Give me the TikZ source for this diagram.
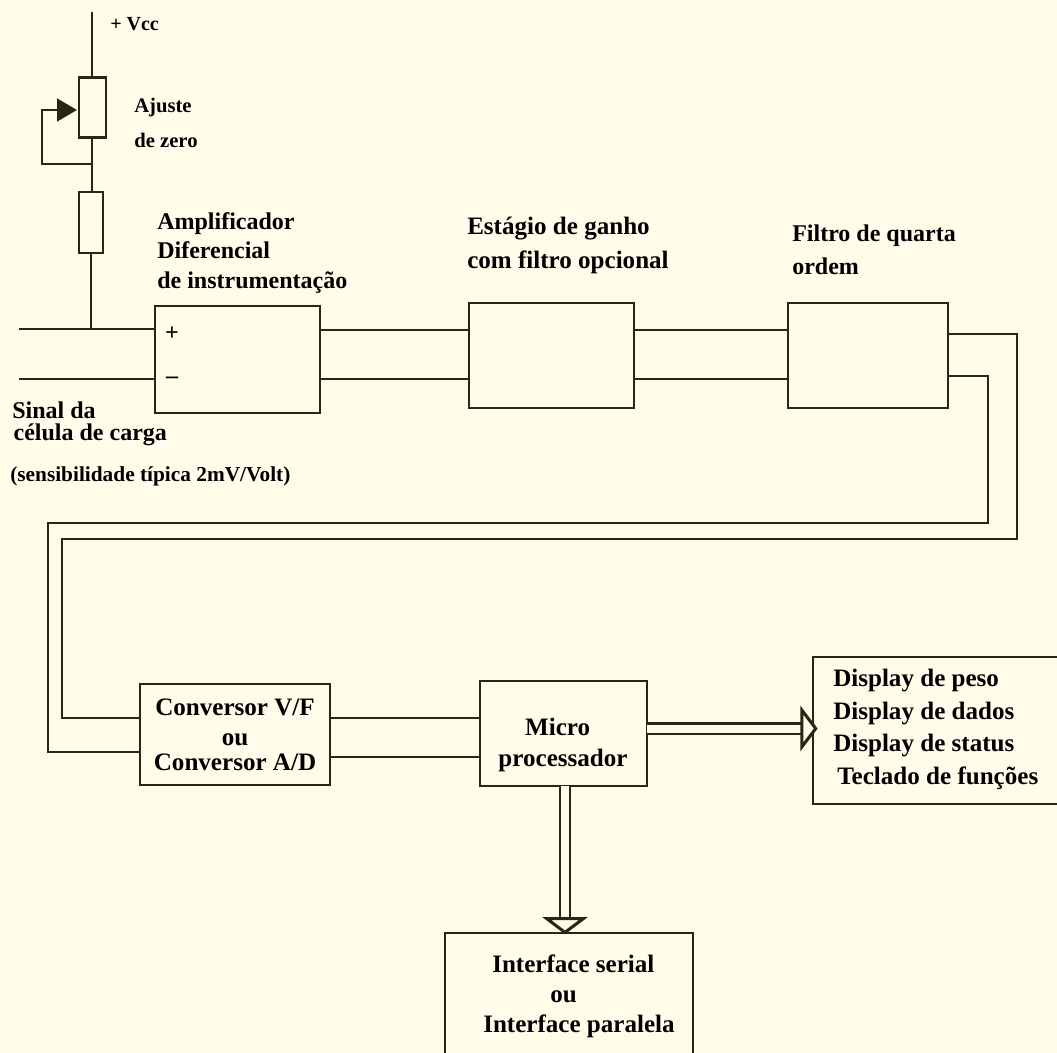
\documentclass[tikz,border=0pt]{standalone}
\usepackage{fontspec}
\setmainfont{Liberation Serif}
\usetikzlibrary{arrows.meta,positioning,calc}
\definecolor{paper}{HTML}{FFFCE9}
\definecolor{ink}{HTML}{2B2614}
\tikzset{
  wire/.style={draw=ink,line width=2.1pt},
  blockbox/.style={draw=ink,line width=2.1pt,inner sep=0pt,outer sep=0pt,align=center},
  lbl/.style={inner sep=0pt,anchor=west,align=left,text=black},
  bigfont/.style={font=\fontsize{18.8}{20}\bfseries},
  smallfont/.style={font=\fontsize{15.5}{17}\bfseries},
  bus/.style={draw=ink,line width=1.6pt,double=paper,double distance=6pt,
    -{Triangle[open,fill=paper,length=13pt,width=34pt,line width=2.3pt]},shorten >=#1},
}
\begin{document}
\begin{tikzpicture}[x=0.75pt,y=-0.75pt,font=\fontsize{18}{20}\bfseries]
\useasboundingbox (0,0) rectangle (1057,1053);
\fill[paper] (0,0) rectangle (1057,1053);
% zero adjust branch
\coordinate (vcc) at (92,12);
\node[blockbox,minimum width=20.25pt,minimum height=45pt] (pot) at (92.5,107.5) {};
\node[blockbox,minimum width=18pt,minimum height=45.75pt] (res) at (91,222.5) {};
\coordinate (loop) at (92,164);
\coordinate (wiper) at (77,110);
\draw[wire] (vcc) -- (vcc |- pot.north);
\draw[wire] (pot.south -| loop) -- (res.north -| loop);
\draw[wire,-{Triangle[length=15pt,width=17pt]}] (loop) -| (42,137) |- (wiper);
\node[lbl,font=\fontsize{15}{17}\bfseries] (vcctxt) at (110,24) {+ Vcc};
\node[lbl,smallfont] (ajtxt) at (134,123) {Ajuste\\[9pt]de zero};
% upper chain
\node[blockbox,minimum width=123.75pt,minimum height=80.25pt] (amp) at (237.5,359.5) {};
\node[blockbox,minimum width=123.75pt,minimum height=78.75pt] (gain) at (551.5,355.5) {};
\node[blockbox,minimum width=120pt,minimum height=78.75pt] (filt) at (868,355.5) {};
\coordinate (inp) at (19,329);
\coordinate (inn) at (19,379);
\draw[wire] (inp) -- (inp -| amp.west);
\draw[wire] (inn) -- (inn -| amp.west);
\draw[wire] (res.south) -- (res.south |- inp);
\node[inner sep=0pt] (plus) at (172,334) {+};
\node[inner sep=0pt] (minus) at (172,380) {--};
\foreach \y in {330,379}{
  \draw[wire] (amp.east |- 0,\y) -- (gain.west |- 0,\y);
  \draw[wire] (gain.east |- 0,\y) -- (filt.west |- 0,\y);}
\node[lbl] (amptxt) at (157,253) {Amplificador\\[2pt]Diferencial\\[2pt]de instrumentação};
\node[lbl,bigfont] (gaintxt) at (467,245.5) {Estágio de ganho\\[5.5pt]com filtro opcional};
\node[lbl] (filttxt) at (792,250) {Filtro de quarta\\[4.75pt]ordem};
\node[lbl] (sigtxt) at (12,424) {Sinal da\\[-3.5pt]\hspace*{1pt}célula de carga};
\node[lbl,font=\fontsize{16}{17}\bfseries] (sentxt) at (10,476) {(sensibilidade típica 2mV/Volt)};
% lower chain
\node[blockbox,bigfont,minimum width=142.5pt,minimum height=75.75pt] (conv) at (235,734.5)
  {Conversor V/F\\[2.5pt]ou\\[-1pt]Conversor A/D};
\node[blockbox,minimum width=125.25pt,minimum height=78.75pt] (micro) at (563.5,733.5) {};
\node[blockbox,minimum width=190pt,minimum height=110.25pt] (disp) at (939.67,730.5) {};
\node[blockbox,minimum width=186pt,minimum height=120pt] (intf) at (569,1013) {};
% long return lines
\draw[wire] (filt.east |- 0,334) -- (1017,334) |- (62,539) -- (62,718) -- (conv.west |- 0,718);
\draw[wire] (filt.east |- 0,376) -- (988,376) |- (48,523) -- (48,752) -- (conv.west |- 0,752);
\foreach \y in {718,757}
  \draw[wire] (conv.east |- 0,\y) -- (micro.west |- 0,\y);
% buses
\draw[bus=-3.5pt] (micro.east |- 0,728.5) -- (disp.west |- 0,728.5);
\draw[bus=-1pt] (micro.south -| 565,0) -- (intf.north -| 565,0);
\node[inner sep=0pt,align=center,bigfont] (microtxt) at (563,745)
  {Micro\hspace*{8pt}\\[3.25pt]processador};
\node[lbl,bigfont] (disptxt) at (833,729.5) {Display de peso\\[4.4pt]Display de dados\\[4.4pt]Display de status\\[4.4pt]\hspace*{3pt}Teclado de funções};
\node[lbl,bigfont] (intftxt) at (492,996) {Interface serial\\[2.5pt]\hspace*{43.5pt}ou\\[2.5pt]\hspace*{-6.75pt}Interface paralela};
\end{tikzpicture}
\end{document}
